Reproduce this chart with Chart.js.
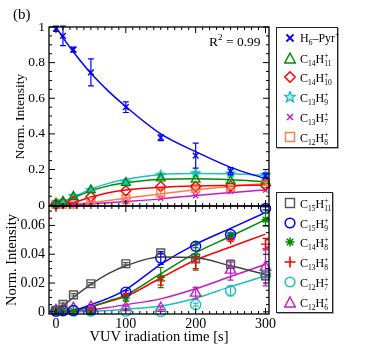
<!DOCTYPE html>
<html>
<head>
<meta charset="utf-8">
<script src="https://cdn.jsdelivr.net/npm/chart.js@4.4.1/dist/chart.umd.min.js"></script>
<style>
  html, body { margin: 0; padding: 0; background: #fff; }
  #wrap { position: relative; width: 374px; height: 351px; font-family: "Liberation Serif", "Times New Roman", serif; color: #000; }
  #c { position: absolute; left: 0; top: 0; }
  .lab { position: absolute; white-space: nowrap; line-height: 1; }
  .legend { position: absolute; border: 1.5px solid #222; background: #fff; box-shadow: 1px 1px 0 #aaa; box-sizing: border-box; }
  .row { position: absolute; left: 0; height: 20px; width: 100%; font-size: 12px; }
  .row svg { position: absolute; left: 7px; top: 4px; }
  .row .t { position: absolute; left: 23px; top: 4px; line-height: 12px; white-space: nowrap; }
  .t sub { font-size: 7.5px; vertical-align: -3px; line-height: 0; }
  .t sup { font-size: 7.5px; vertical-align: 5px; line-height: 0; }
  .ss { display: inline-flex; flex-direction: column; font-size: 7.5px; line-height: 8px; vertical-align: 5px; }
</style>
</head>
<body>
<div id="wrap">
  <canvas id="c" width="374" height="351"></canvas>
  <div class="lab" style="left:13px;top:7px;font-size:15px;">(b)</div>
  <div class="lab" style="left:209px;top:35px;font-size:13.5px;">R<sup style="font-size:9px;vertical-align:6px;line-height:0;">2</sup> = 0.99</div>
  <div id="legTop" class="legend" style="left:276px;top:27px;width:62px;height:121px;"></div>
  <div id="legBot" class="legend" style="left:276px;top:192px;width:57px;height:121px;"></div>
</div>
<script>
// time points of the measurements [s]
const times = [0, 10, 25, 50, 100, 150, 200, 250, 300];
const fitTimes = [0, 10, 25, 50, 75, 100, 150, 200, 250, 300];

// upper panel: measured values and error bars
const h6Pyr = [0.99, 0.95, 0.873, 0.745, 0.55, 0.378, 0.278, 0.19, 0.165];
const h6PyrErr = [0.015, 0.055, 0.014, 0.076, 0.03, 0.016, 0.07, 0.02, 0.015];
const c14h11 = [0.01, 0.02, 0.047, 0.084, 0.125, 0.15, 0.143, 0.135, 0.133];
const c14h10 = [0.005, 0.012, 0.02, 0.047, 0.08, 0.105, 0.105, 0.108, 0.11];
const c13h9 = [0.01, 0.025, 0.055, 0.088, 0.132, 0.173, 0.182, 0.181, 0.171];
const c13h7 = [0.004, 0.005, 0.005, 0.01, 0.018, 0.038, 0.053, 0.078, 0.084];
const c12h8 = [0.004, 0.005, 0.006, 0.018, 0.035, 0.068, 0.094, 0.1, 0.121];
const c12h8Err = [0, 0, 0, 0.005, 0.008, 0.025, 0.01, 0.01, 0.01];

// upper panel: fit curves
const h6PyrFit = [1.0, 0.94, 0.86, 0.74, 0.64, 0.553, 0.4, 0.3, 0.212, 0.148];
const c14h11Fit = [0, 0.012, 0.04, 0.08, 0.108, 0.125, 0.145, 0.148, 0.143, 0.132];
const c14h10Fit = [0, 0.004, 0.015, 0.045, 0.07, 0.085, 0.1, 0.107, 0.11, 0.112];
const c13h9Fit = [0, 0.015, 0.045, 0.09, 0.122, 0.145, 0.172, 0.178, 0.176, 0.168];
const c13h7Fit = [0, 0, 0.002, 0.007, 0.013, 0.02, 0.035, 0.054, 0.07, 0.085];
const c12h8Fit = [0, 0.001, 0.004, 0.014, 0.026, 0.038, 0.063, 0.086, 0.105, 0.12];

// lower panel: measured values and error bars
const c15h11 = [0.001, 0.0052, 0.0118, 0.0195, 0.0334, 0.0409, 0.0374, 0.033, 0.025];
const c15h11Err = [0.0005, 0.0008, 0.0008, 0.0008, 0.0008, 0.0008, 0.0008, 0.0015, 0.001];
const c15h9 = [0.0005, 0.0008, 0.001, 0.0015, 0.0137, 0.0374, 0.0455, 0.0537, 0.0718];
const c15h9Err = [0, 0, 0, 0, 0.001, 0.0045, 0.001, 0.001, 0.001];
const c14h8 = [0.0005, 0.0005, 0.0005, 0.0005, 0.0095, 0.0238, 0.0385, 0.0532, 0.064];
const c14h8Err = [0, 0, 0, 0.001, 0.002, 0.007, 0.0095, 0.0015, 0.0045];
const c13h8 = [0.0005, 0.0005, 0.001, 0.002, 0.0118, 0.0215, 0.034, 0.05, 0.047];
const c13h8Err = [0, 0, 0, 0.001, 0.001, 0.003, 0.004, 0.001, 0.004];
const c12h7 = [0.0005, 0.001, 0.0005, 0.0005, 0.0005, 0.0003, 0.005, 0.0146, 0.0255];
const c12h7Err = [0, 0, 0, 0, 0, 0, 0.001, 0.0035, 0.002];
const c12h6 = [0.001, 0.002, 0.0025, 0.0035, 0.003, 0.0025, 0.013, 0.029, 0.031];
const c12h6Err = [0, 0, 0, 0.001, 0.001, 0.001, 0.004, 0.007, 0.013];

// lower panel: fit curves
const c15h11Fit = [0, 0.004, 0.01, 0.019, 0.0265, 0.032, 0.038, 0.0375, 0.032, 0.026];
const c15h9Fit = [0, 0, 0.001, 0.005, 0.0095, 0.0155, 0.033, 0.047, 0.058, 0.069];
const c14h8Fit = [0, 0, 0.001, 0.0037, 0.0075, 0.0118, 0.0265, 0.041, 0.0525, 0.064];
const c13h8Fit = [0, 0, 0.001, 0.0035, 0.007, 0.0107, 0.0235, 0.036, 0.045, 0.054];
const c12h7Fit = [0, 0, 0, 0.0005, 0.001, 0.0018, 0.004, 0.0095, 0.0175, 0.025];
const c12h6Fit = [0, 0, 0.0005, 0.0015, 0.003, 0.005, 0.009, 0.016, 0.0245, 0.033];

// axis tick labels
const xTicks = [0, 100, 200, 300];
const yTopTicks = [0, 0.2, 0.4, 0.6, 0.8, 1];
const yBotTicks = [0, 0.02, 0.04, 0.06];

const BLUE = '#0000ff', GREEN = '#008a00', RED = '#ff0000', CYAN = '#1cbfbf',
      MAGENTA = '#c41cc4', ORANGE = '#ff7a4a', GRAY = '#555555';

function starImg(color, size) {
  const c = document.createElement('canvas');
  c.width = c.height = size;
  const g = c.getContext('2d');
  g.beginPath();
  for (let i = 0; i < 10; i++) {
    const a = -Math.PI / 2 + i * Math.PI / 5;
    const r = i % 2 ? size * 0.22 : size * 0.48;
    g.lineTo(size / 2 + r * Math.cos(a), size / 2 + 0.5 + r * Math.sin(a));
  }
  g.closePath();
  g.fillStyle = color;
  g.fill();
  return c;
}

function pts(vals, errs, axis, color, style, r, fill) {
  return {
    data: times.map((t, i) => ({ x: t, y: vals[i] })),
    errors: errs,
    yAxisID: axis,
    showLine: false,
    pointStyle: style,
    pointRadius: r,
    pointHoverRadius: r,
    pointBorderColor: color,
    pointBackgroundColor: fill || 'rgba(0,0,0,0)',
    pointBorderWidth: 1.4,
    borderColor: color,
    clip: 8,
    order: 1
  };
}

function fit(vals, axis, color) {
  return {
    data: fitTimes.map((t, i) => ({ x: t, y: vals[i] })),
    yAxisID: axis,
    showLine: true,
    pointRadius: 0,
    borderColor: color,
    borderWidth: 1.5,
    cubicInterpolationMode: 'monotone',
    order: 2
  };
}

// inward ticks and box around each panel
const framePlugin = {
  id: 'frame',
  afterDatasetsDraw(chart) {
    const { ctx, chartArea: a, scales } = chart;
    const x = scales.x;
    ctx.save();
    ctx.strokeStyle = '#000';
    [['yTop', 0.2, 0.05], ['yBot', 0.02, 0.005]].forEach(([id, major, minor]) => {
      const s = scales[id];
      const top = s.top, bot = s.bottom;
      ctx.lineWidth = 1.3;
      ctx.strokeRect(a.left, top, a.right - a.left, bot - top);
      ctx.lineWidth = 1;
      ctx.beginPath();
      for (let t = 0; t <= 300; t += 10) {
        const px = x.getPixelForValue(t);
        const L = t % 100 === 0 ? 6 : 3;
        ctx.moveTo(px, bot); ctx.lineTo(px, bot - L);
        ctx.moveTo(px, top); ctx.lineTo(px, top + L);
      }
      const per = Math.round(major / minor);
      for (let k = Math.ceil(s.min / minor); k * minor <= s.max + 1e-9; k++) {
        const py = s.getPixelForValue(k * minor);
        const L = k % per === 0 ? 6 : 3;
        ctx.moveTo(a.left, py); ctx.lineTo(a.left + L, py);
        ctx.moveTo(a.right, py); ctx.lineTo(a.right - L, py);
      }
      ctx.stroke();
    });
    ctx.restore();
  }
};

const errorBarPlugin = {
  id: 'errorBars',
  afterDatasetsDraw(chart) {
    const { ctx } = chart;
    ctx.save();
    ctx.lineWidth = 1.2;
    chart.data.datasets.forEach((ds, di) => {
      if (!ds.errors) return;
      const meta = chart.getDatasetMeta(di);
      const ys = chart.scales[ds.yAxisID];
      ctx.strokeStyle = ds.borderColor;
      ctx.beginPath();
      ds.data.forEach((p, i) => {
        const e = ds.errors[i];
        if (!e) return;
        const px = meta.data[i].x;
        const y1 = ys.getPixelForValue(p.y + e), y2 = ys.getPixelForValue(p.y - e);
        ctx.moveTo(px, y1); ctx.lineTo(px, y2);
        ctx.moveTo(px - 3, y1); ctx.lineTo(px + 3, y1);
        ctx.moveTo(px - 3, y2); ctx.lineTo(px + 3, y2);
      });
      ctx.stroke();
    });
    ctx.restore();
  }
};

const star = starImg(CYAN, 13);

new Chart(document.getElementById('c'), {
  type: 'scatter',
  data: {
    datasets: [
      pts(h6Pyr, h6PyrErr, 'yTop', BLUE, 'crossRot', 4),
      pts(c14h11, null, 'yTop', GREEN, 'triangle', 5),
      pts(c14h10, null, 'yTop', RED, 'rectRot', 5),
      pts(c13h9, null, 'yTop', CYAN, star, 6),
      pts(c13h7, null, 'yTop', MAGENTA, 'crossRot', 3.5),
      pts(c12h8, c12h8Err, 'yTop', ORANGE, 'rect', 5.5),
      fit(h6PyrFit, 'yTop', BLUE),
      fit(c14h11Fit, 'yTop', GREEN),
      fit(c14h10Fit, 'yTop', RED),
      fit(c13h9Fit, 'yTop', CYAN),
      fit(c13h7Fit, 'yTop', MAGENTA),
      fit(c12h8Fit, 'yTop', ORANGE),

      pts(c15h11, c15h11Err, 'yBot', GRAY, 'rect', 5.5),
      pts(c15h9, c15h9Err, 'yBot', BLUE, 'circle', 5),
      pts(c14h8, c14h8Err, 'yBot', GREEN, 'star', 4),
      pts(c13h8, c13h8Err, 'yBot', RED, 'cross', 4.5),
      pts(c12h7, c12h7Err, 'yBot', CYAN, 'circle', 5),
      pts(c12h6, c12h6Err, 'yBot', MAGENTA, 'triangle', 6),
      fit(c15h11Fit, 'yBot', '#404040'),
      fit(c15h9Fit, 'yBot', BLUE),
      fit(c14h8Fit, 'yBot', GREEN),
      fit(c13h8Fit, 'yBot', RED),
      fit(c12h7Fit, 'yBot', CYAN),
      fit(c12h6Fit, 'yBot', MAGENTA)
    ]
  },
  options: {
    responsive: false,
    animation: false,
    devicePixelRatio: 1,
    layout: { padding: { left: 0, right: 105, top: 27, bottom: 5 } },
    plugins: { legend: { display: false }, tooltip: { enabled: false } },
    scales: {
      x: {
        type: 'linear',
        min: -10,
        max: 305,
        afterBuildTicks: s => { s.ticks = xTicks.map(v => ({ value: v })); },
        afterFit: s => { s.height = 32; },
        grid: { display: false, drawTicks: false },
        border: { display: false },
        ticks: { padding: 2, maxRotation: 0, autoSkip: false, color: '#000',
                 font: { family: 'Liberation Serif', size: 14 } },
        title: { display: true, text: 'VUV iradiation time [s]', color: '#000', padding: 0,
                 font: { family: 'Liberation Serif', size: 14.5 } }
      },
      // stacked axes are placed bottom-up, so the lower panel comes first
      yBot: {
        type: 'linear',
        position: 'left',
        stack: 'panels',
        stackWeight: 108,
        min: -0.0015,
        max: 0.0735,
        afterBuildTicks: s => { s.ticks = yBotTicks.map(v => ({ value: v })); },
        afterFit: s => { s.width = 49; },
        grid: { display: false, drawTicks: false },
        border: { display: false },
        ticks: { padding: 4, color: '#000', font: { family: 'Liberation Serif', size: 14 },
                 callback: v => v === 0 ? '0' : v.toFixed(2) },
        title: { display: true, text: 'Norm. Intensity', color: '#000', padding: { top: 3, bottom: 0 },
                 font: { family: 'Liberation Serif', size: 14.5 } }
      },
      yTop: {
        type: 'linear',
        position: 'left',
        stack: 'panels',
        stackWeight: 179,
        min: -0.005,
        max: 1.0,
        afterBuildTicks: s => { s.ticks = yTopTicks.map(v => ({ value: v })); },
        afterFit: s => { s.width = 49; },
        grid: { display: false, drawTicks: false },
        border: { display: false },
        ticks: { padding: 4, color: '#000', font: { family: 'Liberation Serif', size: 13.5 },
                 callback: v => (v === 0 || v === 1) ? String(v) : v.toFixed(1) },
        title: { display: true, text: 'Norm. Intensity', color: '#000', padding: { top: 12, bottom: 0 },
                 font: { family: 'Liberation Serif', size: 13.5 } }
      }
    }
  },
  plugins: [errorBarPlugin, framePlugin]
});

// legends (HTML, so the chemical formulas keep real sub/superscripts)
function H(sub) { return 'H<span class="ss"><span>+</span><span>' + sub + '</span></span>'; }
function C(n) { return 'C<sub>' + n + '</sub>'; }

const S = {
  x: c => `<svg width="12" height="12"><path d="M2.5 2.5L9.5 9.5M9.5 2.5L2.5 9.5" stroke="${c}" stroke-width="1.8"/></svg>`,
  xs: c => `<svg width="12" height="12"><path d="M3 3L9 9M9 3L3 9" stroke="${c}" stroke-width="1.5"/></svg>`,
  tri: c => `<svg width="12" height="12"><polygon points="6,1 11.3,11 0.7,11" fill="none" stroke="${c}" stroke-width="1.5"/></svg>`,
  dia: c => `<svg width="12" height="12"><polygon points="6,0.8 11.2,6 6,11.2 0.8,6" fill="none" stroke="${c}" stroke-width="1.5"/></svg>`,
  star: c => `<svg width="12" height="12"><polygon points="6,0.3 7.4,4.2 11.6,4.3 8.3,6.8 9.5,10.9 6,8.5 2.5,10.9 3.7,6.8 0.4,4.3 4.6,4.2" fill="#bfecec" stroke="${c}" stroke-width="1.3"/></svg>`,
  sq: c => `<svg width="12" height="12"><rect x="1.5" y="1.5" width="9" height="9" fill="none" stroke="${c}" stroke-width="1.4"/></svg>`,
  circ: c => `<svg width="12" height="12"><circle cx="6" cy="6" r="4.8" fill="none" stroke="${c}" stroke-width="1.6"/></svg>`,
  ast: c => `<svg width="12" height="12"><path d="M6 1.5V10.5M1.5 6H10.5M2.8 2.8L9.2 9.2M9.2 2.8L2.8 9.2" stroke="${c}" stroke-width="1.6"/></svg>`,
  plus: c => `<svg width="12" height="12"><path d="M6 0.5V11.5M0.5 6H11.5" stroke="${c}" stroke-width="1.6"/></svg>`
};

const topEntries = [
  [S.x(BLUE), 'H<sub>6</sub>&ndash;Pyr<sup>+</sup>'],
  [S.tri(GREEN), C(14) + H(11)],
  [S.dia(RED), C(14) + H(10)],
  [S.star(CYAN), C(13) + H(9)],
  [S.xs(MAGENTA), C(13) + H(7)],
  [S.sq(ORANGE), C(12) + H(8)]
];
const botEntries = [
  [S.sq(GRAY), C(15) + H(11)],
  [S.circ(BLUE), C(15) + H(9)],
  [S.ast(GREEN), C(14) + H(8)],
  [S.plus(RED), C(13) + H(8)],
  [S.circ(CYAN), C(12) + H(7)],
  [S.tri(MAGENTA), C(12) + H(6)]
];

function fillLegend(id, entries) {
  const el = document.getElementById(id);
  el.innerHTML = entries.map((e, i) =>
    `<div class="row" style="top:${i * 19.7}px">${e[0]}<span class="t">${e[1]}</span></div>`).join('');
}
fillLegend('legTop', topEntries);
fillLegend('legBot', botEntries);
</script>
</body>
</html>
